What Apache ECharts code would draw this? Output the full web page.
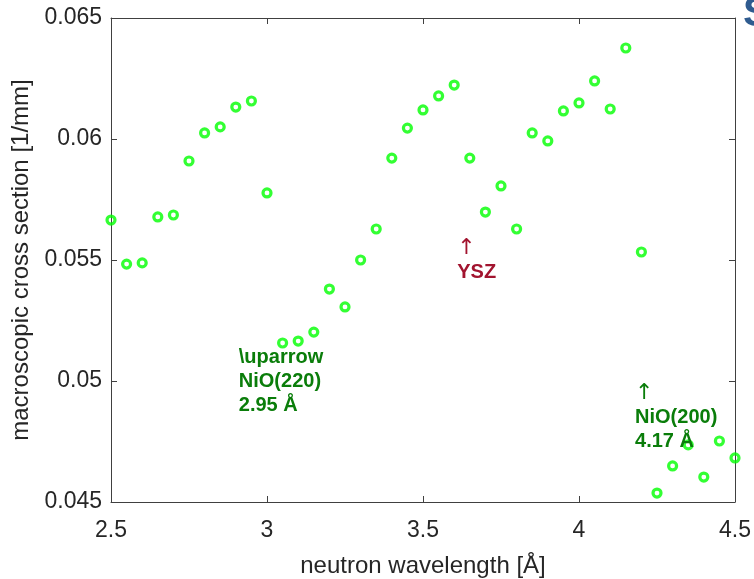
<!DOCTYPE html>
<html>
<head>
<meta charset="utf-8">
<script src="https://cdn.jsdelivr.net/npm/echarts@6/dist/echarts.min.js"></script>
<style>
  html, body { margin: 0; padding: 0; background: #ffffff; }
  #chart { width: 754px; height: 579px; }
</style>
</head>
<body>
<div id="chart"></div>
<script>
// neutron wavelength [Å]
const wavelengths = [
  2.50, 2.55, 2.60, 2.65, 2.70, 2.75, 2.80, 2.85, 2.90, 2.95,
  3.00, 3.05, 3.10, 3.15, 3.20, 3.25, 3.30, 3.35, 3.40, 3.45,
  3.50, 3.55, 3.60, 3.65, 3.70, 3.75, 3.80, 3.85, 3.90, 3.95,
  4.00, 4.05, 4.10, 4.15, 4.20, 4.25, 4.30, 4.35, 4.40, 4.45,
  4.50
];

// macroscopic cross section [1/mm]
const crossSection = [
  0.05665, 0.05483, 0.05488, 0.05678, 0.05686, 0.05909, 0.06025, 0.06050, 0.06132, 0.06157,
  0.05777, 0.05157, 0.05165, 0.05202, 0.05380, 0.05306, 0.05500, 0.05628, 0.05921, 0.06045,
  0.06120, 0.06178, 0.06223, 0.05921, 0.05698, 0.05806, 0.05628, 0.06025, 0.05992, 0.06116,
  0.06149, 0.06240, 0.06124, 0.06376, 0.05533, 0.04537, 0.04649, 0.04736, 0.04603, 0.04752,
  0.04682
];

const xTicks = [2.5, 3, 3.5, 4, 4.5];
const yTicks = [0.045, 0.05, 0.055, 0.06, 0.065];

// annotation anchors (data coords, left / middle like MATLAB text())
const annotationX = [2.9, 3.6, 4.17];
const annotationY = [0.05, 0.055, 0.0485];

const axisColor = "#404040";
const labelColor = "#262626";
const peakGreen = "#0a7d0a";
const yszRed = "#a2142f";

function makeAxis(base, showLabels) {
  return Object.assign({
    axisLine: { show: true, onZero: false, lineStyle: { color: axisColor, width: 1 } },
    axisTick: { show: true, inside: true, length: 6, lineStyle: { color: axisColor } },
    splitLine: { show: false },
    axisLabel: { show: showLabels }
  }, base);
}

function createOption() {
  const points = wavelengths.map(function (w, i) { return [w, crossSection[i]]; });
  return {
    animation: false,
    backgroundColor: "#ffffff",
    grid: {
      left: 111, right: 19, top: 18, bottom: 77,
      containLabel: false, outerBoundsMode: "none"
    },
    xAxis: [
      makeAxis({
        type: "value", position: "bottom",
        min: xTicks[0], max: xTicks[xTicks.length - 1], interval: 0.5,
        name: "neutron wavelength [Å]", nameLocation: "middle", nameGap: 52,
        nameTextStyle: { color: labelColor, fontSize: 24, fontFamily: "Liberation Sans" },
        axisLabel: {
          show: true, color: labelColor, fontSize: 23, margin: 17,
          fontFamily: "Liberation Sans",
          formatter: function (v) { return String(parseFloat(v.toFixed(2))); }
        }
      }, true),
      makeAxis({
        type: "value", position: "top",
        min: xTicks[0], max: xTicks[xTicks.length - 1], interval: 0.5
      }, false)
    ],
    yAxis: [
      makeAxis({
        type: "value", position: "left",
        min: yTicks[0], max: yTicks[yTicks.length - 1], interval: 0.005,
        name: "macroscopic cross section [1/mm]", nameLocation: "middle", nameGap: 74,
        nameTextStyle: { color: labelColor, fontSize: 24, fontFamily: "Liberation Sans" },
        axisLabel: {
          show: true, color: labelColor, fontSize: 23, margin: 9,
          fontFamily: "Liberation Sans",
          formatter: function (v) { return String(parseFloat(v.toFixed(4))); }
        }
      }, true),
      makeAxis({
        type: "value", position: "right",
        min: yTicks[0], max: yTicks[yTicks.length - 1], interval: 0.005
      }, false)
    ],
    series: [
      {
        type: "scatter",
        data: points,
        clip: false,
        symbol: "circle",
        symbolSize: 8,
        itemStyle: { color: "rgba(255,255,255,0)", borderColor: "#00ff00", borderWidth: 3.2 },
        z: 2
      }
    ]
  };
}

function buildAnnotations(chart) {
  const px = annotationX.map(function (x, i) {
    return chart.convertToPixel({ gridIndex: 0 }, [x, annotationY[i]]);
  });
  const bold = { fontWeight: "bold", fontSize: 20, fontFamily: "Liberation Sans", lineHeight: 24 };
  function textEl(p, text, rich, fill) {
    return {
      type: "text", x: p[0] + 3, y: p[1], z: 10,
      style: {
        text: text, fill: fill, align: "left", verticalAlign: "middle",
        fontSize: 20, fontFamily: "Liberation Sans", lineHeight: 24, rich: rich
      }
    };
  }
  const greenRich = {
    b: Object.assign({ fill: peakGreen }, bold),
    a: { fill: peakGreen, fontSize: 22, fontFamily: "DejaVu Sans", lineHeight: 24 }
  };
  const redRich = {
    b: Object.assign({ fill: yszRed }, bold),
    a: { fill: yszRed, fontSize: 22, fontFamily: "DejaVu Sans", lineHeight: 24 }
  };
  return [
    textEl(px[0], "{b|\\uparrow}\n{b|NiO(220)}\n{b|2.95 Å}", greenRich, peakGreen),
    textEl(px[1], "{a|↑}\n{b|YSZ}", redRich, yszRed),
    textEl(px[2], "{a|↑}\n{b|NiO(200)}\n{b|4.17 Å}", greenRich, peakGreen),
    {
      type: "text", x: 743, y: -7, z: 10,
      style: { text: "S", fill: "#2f5b8f", fontSize: 42, fontWeight: "bold", fontFamily: "Liberation Sans" }
    }
  ];
}

const chart = echarts.init(document.getElementById("chart"), null, { renderer: "canvas" });
chart.setOption(createOption());
chart.setOption({ graphic: buildAnnotations(chart) });
</script>
</body>
</html>
